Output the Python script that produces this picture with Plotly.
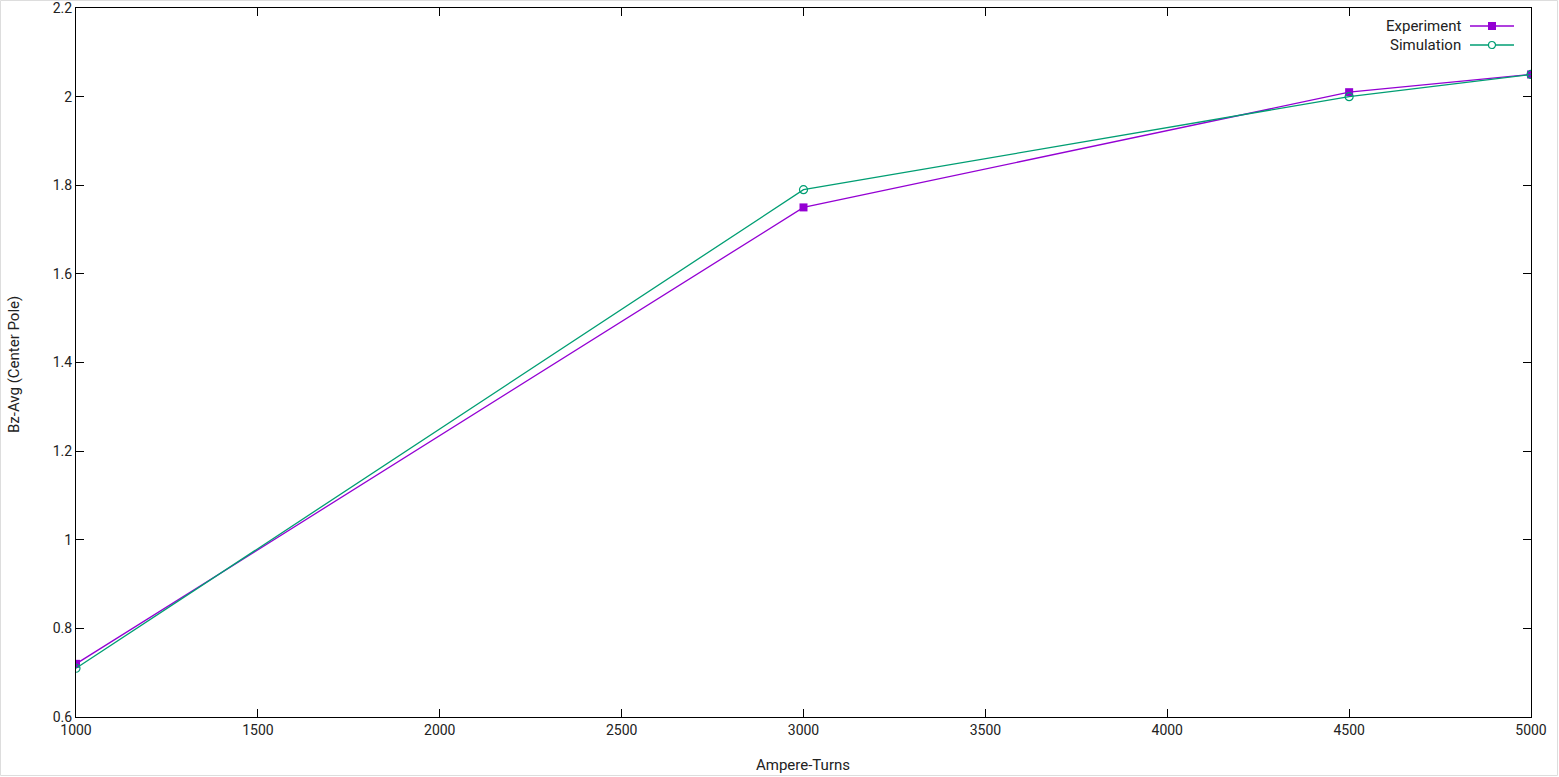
import plotly.graph_objects as go

ampere_turns = [1000, 3000, 4500, 5000]
experiment = [0.72, 1.75, 2.01, 2.05]
simulation = [0.71, 1.79, 2.00, 2.05]
x_ticks = [1000, 1500, 2000, 2500, 3000, 3500, 4000, 4500, 5000]
y_ticks = [0.6, 0.8, 1.0, 1.2, 1.4, 1.6, 1.8, 2.0, 2.2]
y_tick_text = ["0.6", "0.8", "1", "1.2", "1.4", "1.6", "1.8", "2", "2.2"]

PURPLE = "#9400D3"
GREEN = "#009E73"
FONT = "Roboto"
TXT = "#222222"

W, H = 1559, 777
L, R, T, B = 76, 28, 8, 60
PW, PH = W - L - R, H - T - B

def px(x):
    return (x - L) / PW

def py(y):
    return (H - B - y) / PH

fig = go.Figure()
fig.add_trace(go.Scatter(x=ampere_turns, y=experiment, mode="lines+markers", name="Experiment",
                         line=dict(color=PURPLE, width=1.3),
                         marker=dict(symbol="square", size=8, color=PURPLE), showlegend=False))
fig.add_trace(go.Scatter(x=ampere_turns, y=simulation, mode="lines+markers", name="Simulation",
                         line=dict(color=GREEN, width=1.3),
                         marker=dict(symbol="circle-open", size=8, color=GREEN, line=dict(width=1.2)),
                         showlegend=False))

axis_common = dict(showline=True, linecolor="black", linewidth=1, mirror="ticks",
                   ticks="inside", ticklen=8, tickcolor="black", tickwidth=1,
                   showgrid=False, zeroline=False, automargin=False,
                   ticklabeloverflow="allow",
                   tickfont=dict(family=FONT, size=14, color=TXT))

fig.update_xaxes(range=[1000, 5000], tickvals=x_ticks, ticktext=[str(v) for v in x_ticks],
                 **axis_common)
fig.update_yaxes(range=[0.6, 2.2], tickvals=y_ticks, ticktext=y_tick_text,
                 **axis_common)

shapes = []
annotations = [
    dict(x=px(803), y=py(765), xref="paper", yref="paper", text="Ampere-Turns", showarrow=False,
         xanchor="center", yanchor="middle", font=dict(family=FONT, size=15, color=TXT)),
    dict(x=px(14), y=py(365), xref="paper", yref="paper", text="Bz-Avg (Center Pole)", showarrow=False,
         textangle=-90, xanchor="center", yanchor="middle", font=dict(family=FONT, size=15, color=TXT)),
]

# custom gnuplot-style legend (text on the left, sample on the right)
legend_items = [("Experiment", PURPLE, "square", 26), ("Simulation", GREEN, "circle", 45)]
for name, color, sym, yy in legend_items:
    annotations.append(dict(x=px(1463), y=py(yy), xref="paper", yref="paper", text=name,
                            showarrow=False, xanchor="right", yanchor="middle",
                            font=dict(family=FONT, size=15, color=TXT)))
    shapes.append(dict(type="line", xref="paper", yref="paper", x0=px(1470), x1=px(1514),
                       y0=py(yy), y1=py(yy), line=dict(color=color, width=1.3)))
    if sym == "square":
        shapes.append(dict(type="rect", xref="paper", yref="paper", x0=px(1488), x1=px(1496),
                           y0=py(yy - 4), y1=py(yy + 4), fillcolor=color, line=dict(color=color, width=0)))
    else:
        shapes.append(dict(type="circle", xref="paper", yref="paper", x0=px(1488.5), x1=px(1495.5),
                           y0=py(yy - 3.5), y1=py(yy + 3.5), fillcolor="white", line=dict(color=color, width=1.2)))

# light frame around the whole image
shapes.append(dict(type="rect", xref="paper", yref="paper", x0=px(0.5), x1=px(W - 1.5),
                   y0=py(H - 1.5), y1=py(0.5), line=dict(color="#dddddd", width=1), layer="below"))

fig.update_layout(width=W, height=H, margin=dict(l=L, r=R, t=T, b=B),
                  paper_bgcolor="white", plot_bgcolor="white",
                  shapes=shapes, annotations=annotations,
                  font=dict(family=FONT))

fig.write_html("out.html", config={"displayModeBar": False},
               post_script="document.body.style.margin='0';document.body.style.overflow='hidden';")
